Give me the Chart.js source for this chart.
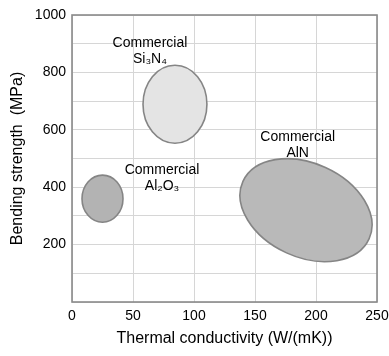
<!DOCTYPE html>
<html>
<head>
<meta charset="utf-8">
<script src="https://cdn.jsdelivr.net/npm/chart.js@4/dist/chart.umd.min.js"></script>
<style>
  html, body { margin: 0; padding: 0; background: #fff; }
  #wrap { width: 389px; height: 356px; }
</style>
</head>
<body>
<div id="wrap"><canvas id="c" width="389" height="356"></canvas></div>
<script>
// Material property regions: thermal conductivity vs bending strength
const materials = ['Si\u2083N\u2084', 'Al\u2082O\u2083', 'AlN'];
const centerConductivity = [84.4, 25, 191.8];    // W/(mK)
const centerStrength = [689, 360, 320];          // MPa
const spreadConductivity = [26.2, 16.8, 56.8];   // half-width, W/(mK)
const spreadStrength = [136, 82, 163.5];         // half-height, MPa
const tiltDeg = [0, 0, 24.5];
const fills = ['#e4e4e4', '#b3b3b3', '#b9b9b9'];

// Label anchors (conductivity, strength)
const labelConductivity = [63.9, 73.8, 185];
const labelStrength = [875, 430, 545];

const xTicks = [0, 50, 100, 150, 200, 250];
const yTickLabels = [200, 400, 600, 800, 1000];

const FONT = '"Liberation Sans", Arial, sans-serif';

const regionsPlugin = {
  id: 'regions',
  beforeDatasetsDraw(chart) {
    const { ctx, scales: { x, y } } = chart;
    ctx.save();
    ctx.beginPath();
    ctx.rect(chart.chartArea.left, chart.chartArea.top,
             chart.chartArea.right - chart.chartArea.left,
             chart.chartArea.bottom - chart.chartArea.top);
    ctx.clip();
    materials.forEach((m, i) => {
      const cx = x.getPixelForValue(centerConductivity[i]);
      const cy = y.getPixelForValue(centerStrength[i]);
      const rx = Math.abs(x.getPixelForValue(centerConductivity[i] + spreadConductivity[i]) - cx);
      const ry = Math.abs(y.getPixelForValue(centerStrength[i] + spreadStrength[i]) - cy);
      ctx.beginPath();
      ctx.ellipse(cx, cy, rx, ry, tiltDeg[i] * Math.PI / 180, 0, Math.PI * 2);
      ctx.fillStyle = fills[i];
      ctx.fill();
      ctx.lineWidth = 1.6;
      ctx.strokeStyle = '#858585';
      ctx.stroke();
    });
    ctx.restore();
  },
  afterDatasetsDraw(chart) {
    const { ctx, chartArea: a, scales: { x, y } } = chart;
    ctx.save();
    // frame
    ctx.strokeStyle = '#8a8a8a';
    ctx.lineWidth = 1.6;
    ctx.strokeRect(a.left, a.top, a.right - a.left, a.bottom - a.top);
    // labels
    ctx.fillStyle = '#000';
    ctx.font = '14px ' + FONT;
    ctx.textAlign = 'center';
    ctx.textBaseline = 'middle';
    materials.forEach((m, i) => {
      const px = x.getPixelForValue(labelConductivity[i]);
      const py = y.getPixelForValue(labelStrength[i]);
      ctx.fillText('Commercial', px, py - 8);
      ctx.fillText(m, px, py + 8);
    });
    ctx.restore();
  }
};

new Chart(document.getElementById('c'), {
  type: 'scatter',
  data: {
    datasets: [{
      label: 'Centers',
      data: materials.map((m, i) => ({ x: centerConductivity[i], y: centerStrength[i] })),
      pointRadius: 0,
      pointHoverRadius: 0
    }]
  },
  options: {
    responsive: false,
    animation: false,
    events: [],
    layout: { padding: { top: 15, right: 12, left: 0, bottom: 0 } },
    plugins: { legend: { display: false }, tooltip: { enabled: false } },
    scales: {
      x: {
        type: 'linear',
        min: 0, max: 250,
        afterFit(s) { s.height = 54; s.paddingRight = 0; s.paddingLeft = 0; },
        afterBuildTicks(s) { s.ticks = xTicks.map(v => ({ value: v })); },
        grid: { color: '#d6d6d6', lineWidth: 1, drawTicks: false },
        border: { display: false },
        ticks: { color: '#000', font: { family: FONT, size: 14 }, padding: 6 },
        title: {
          display: true,
          text: 'Thermal conductivity (W/(mK))',
          color: '#000',
          font: { family: FONT, size: 16 },
          padding: { top: 0, bottom: 8 }
        }
      },
      y: {
        type: 'linear',
        min: 0, max: 1000,
        afterFit(s) { s.width = 72; s.paddingTop = 0; s.paddingBottom = 0; },
        ticks: {
          stepSize: 100,
          color: '#000',
          font: { family: FONT, size: 14 },
          padding: 6,
          callback: v => (yTickLabels.includes(v) ? String(v) : '')
        },
        grid: { color: '#d6d6d6', lineWidth: 1, drawTicks: false },
        border: { display: false },
        title: {
          display: true,
          text: 'Bending strength  (MPa)',
          color: '#000',
          font: { family: FONT, size: 16 },
          padding: { top: 8, bottom: 0 }
        }
      }
    }
  },
  plugins: [regionsPlugin]
});
</script>
</body>
</html>
